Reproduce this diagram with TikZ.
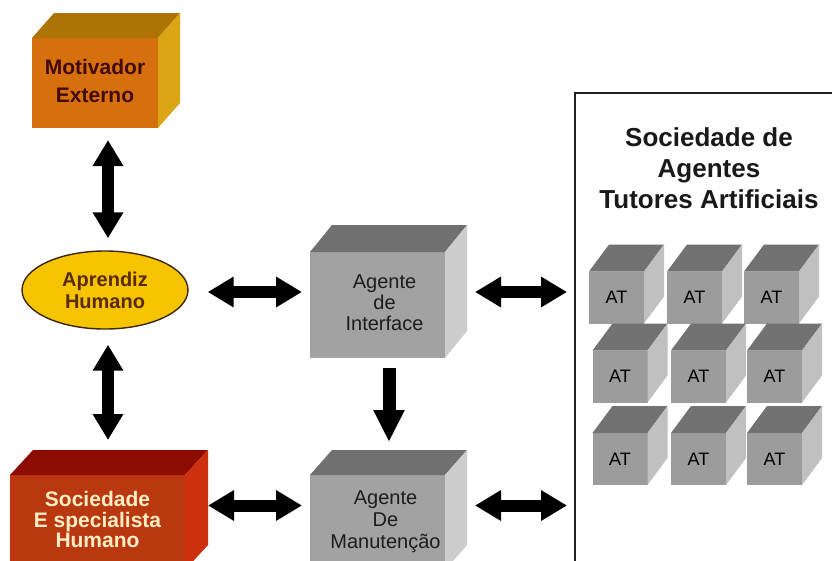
\documentclass[tikz,border=0pt]{standalone}
\usepackage{fontspec}
\setmainfont{Liberation Sans}
\usetikzlibrary{arrows.meta,shapes.geometric}

% face colours of the boxes
\definecolor{motfront}{RGB}{214,112,14}
\definecolor{mottop}{RGB}{172,116,4}
\definecolor{motside}{RGB}{218,166,22}
\definecolor{mottext}{RGB}{66,10,10}
\definecolor{socfront}{RGB}{186,56,16}
\definecolor{soctop}{RGB}{140,12,2}
\definecolor{socside}{RGB}{204,48,12}
\definecolor{soctext}{RGB}{255,238,196}
\definecolor{grfront}{RGB}{162,162,162}
\definecolor{grtop}{RGB}{112,112,112}
\definecolor{grside}{RGB}{204,204,204}
\definecolor{grtext}{RGB}{28,28,28}
\definecolor{atfront}{RGB}{156,156,156}
\definecolor{attop}{RGB}{114,114,114}
\definecolor{atside}{RGB}{192,192,192}
\definecolor{aprfill}{RGB}{246,196,0}
\definecolor{aprline}{RGB}{60,40,0}
\definecolor{aprtext}{RGB}{90,42,0}

% top and right faces of a box whose front face is node #1
\newcommand\cubesides[5]{%
  \fill[#4] (#1.north west) -- ++(#2,-#3) -- ([shift={(#2,-#3)}]#1.north east) -- (#1.north east) -- cycle;
  \fill[#5] (#1.north east) -- ([shift={(#2,-#3)}]#1.north east) -- ([shift={(#2,-#3)}]#1.south east) -- (#1.south east) -- cycle;}

\newcommand\stack[1]{\begin{tabular}{@{}c@{}}#1\end{tabular}}

\tikzset{
  front/.style 2 args={rectangle, inner sep=0pt, outer sep=0pt,
    minimum width=#1, minimum height=#2},
  atbox/.style={front={55pt}{52pt}, fill=atfront, text=black,
    font=\fontsize{18}{20}\selectfont},
  dbl/.style={line width=12pt, draw=black,
    {Triangle[length=26pt,width=29pt]}-{Triangle[length=26pt,width=29pt]}},
  sgl/.style={line width=13pt, draw=black, -{Triangle[length=32pt,width=29pt]}},
}

\begin{document}
\begin{tikzpicture}[x=1pt,y=-1pt]
\useasboundingbox (0,0) rectangle (832,560);
\fill[white] (0,0) rectangle (832,560);

% Motivador Externo
\node[front={126pt}{90pt}, fill=motfront, text=mottext,
  font=\fontsize{21}{28}\selectfont\bfseries] (mot) at (95,83)
  {\raisebox{11pt}{\stack{Motivador\\Externo}}};
\cubesides{mot}{22}{25}{mottop}{motside}

% Aprendiz Humano
\node[ellipse, minimum width=166pt, minimum height=78pt, inner sep=0pt,
  fill=aprfill, draw=aprline, line width=1.4pt, text=aprtext, align=center,
  font=\fontsize{20}{22}\selectfont\bfseries] (apr) at (105,290)
  {Aprendiz\\Humano};

% Sociedade Especialista Humano
\node[front={175pt}{95pt}, fill=socfront, text=soctext,
  font=\fontsize{21}{20}\selectfont\bfseries] (soc) at (97.5,522.5)
  {\raisebox{7pt}{\stack{Sociedade\\E specialista\\Humano}}};
\cubesides{soc}{23}{25}{soctop}{socside}

% Agente de Interface
\node[front={135pt}{106pt}, fill=grfront, text=grtext,
  font=\fontsize{20}{21}\selectfont] (ifc) at (377.5,305)
  {\raisebox{13pt}{\hspace{14pt}\stack{Agente\\de\\Interface}}};
\cubesides{ifc}{22}{27}{grtop}{grside}

% Agente De Manutencao
\node[front={135pt}{95pt}, fill=grfront, text=grtext,
  font=\fontsize{20}{22}\selectfont] (man) at (377.5,522.5)
  {\raisebox{7pt}{\hspace{16pt}\stack{Agente\\De\\Manutenção}}};
\cubesides{man}{22}{25}{grtop}{grside}

% society of artificial tutor agents
\node[rectangle, draw=black!88, line width=2pt, inner sep=0pt, outer sep=0pt,
  minimum width=280pt, minimum height=490pt, anchor=north west] (panel) at (575,93) {};
\node[align=center, font=\fontsize{26}{31}\selectfont\bfseries, text=black!90] (title)
  at (709,168) {Sociedade de\\Agentes\hspace{12pt}\\Tutores Artificiais};

\foreach \n/\x/\y in {a1/616.5/297.5, a2/694.5/297.5, a3/771.5/297.5,
                      b1/620/376.5,   b2/698.5/376.5, b3/774.5/376.5,
                      c1/620/459,     c2/698.5/459,   c3/774.5/459}{
  \node[atbox] (\n) at (\x,\y) {AT};
  \cubesides{\n}{20}{27}{attop}{atside}
}

% connectors
\draw[dbl, shorten <=12pt, shorten >=12pt]
  ([xshift=3pt]apr.north |- mot.south) -- ([xshift=3pt]apr.north);
\draw[dbl, shorten <=15pt, shorten >=35pt]
  ([xshift=3pt]apr.south) -- ([xshift=3pt]apr.south |- soc.north);
\draw[dbl, shorten <=19pt, shorten >=8pt]
  ([yshift=-2pt]apr.east) -- ([yshift=-2pt]ifc.west |- apr.east);
\draw[dbl, shorten <=30pt, shorten >=8pt]
  ([yshift=-2pt]ifc.east |- apr.east) -- ([yshift=-2pt]panel.west |- apr.east);
\draw[sgl, shorten <=10pt, shorten >=33pt]
  ([xshift=11.5pt]ifc.south) -- ([xshift=11.5pt]man.north);
\draw[dbl, shorten <=23pt, shorten >=8pt]
  ([yshift=17pt]soc.east) -- ([yshift=17pt]man.west);
\draw[dbl, shorten <=30pt, shorten >=8pt]
  ([yshift=17pt]man.east) -- ([yshift=17pt]panel.west |- man.east);
\end{tikzpicture}
\end{document}
